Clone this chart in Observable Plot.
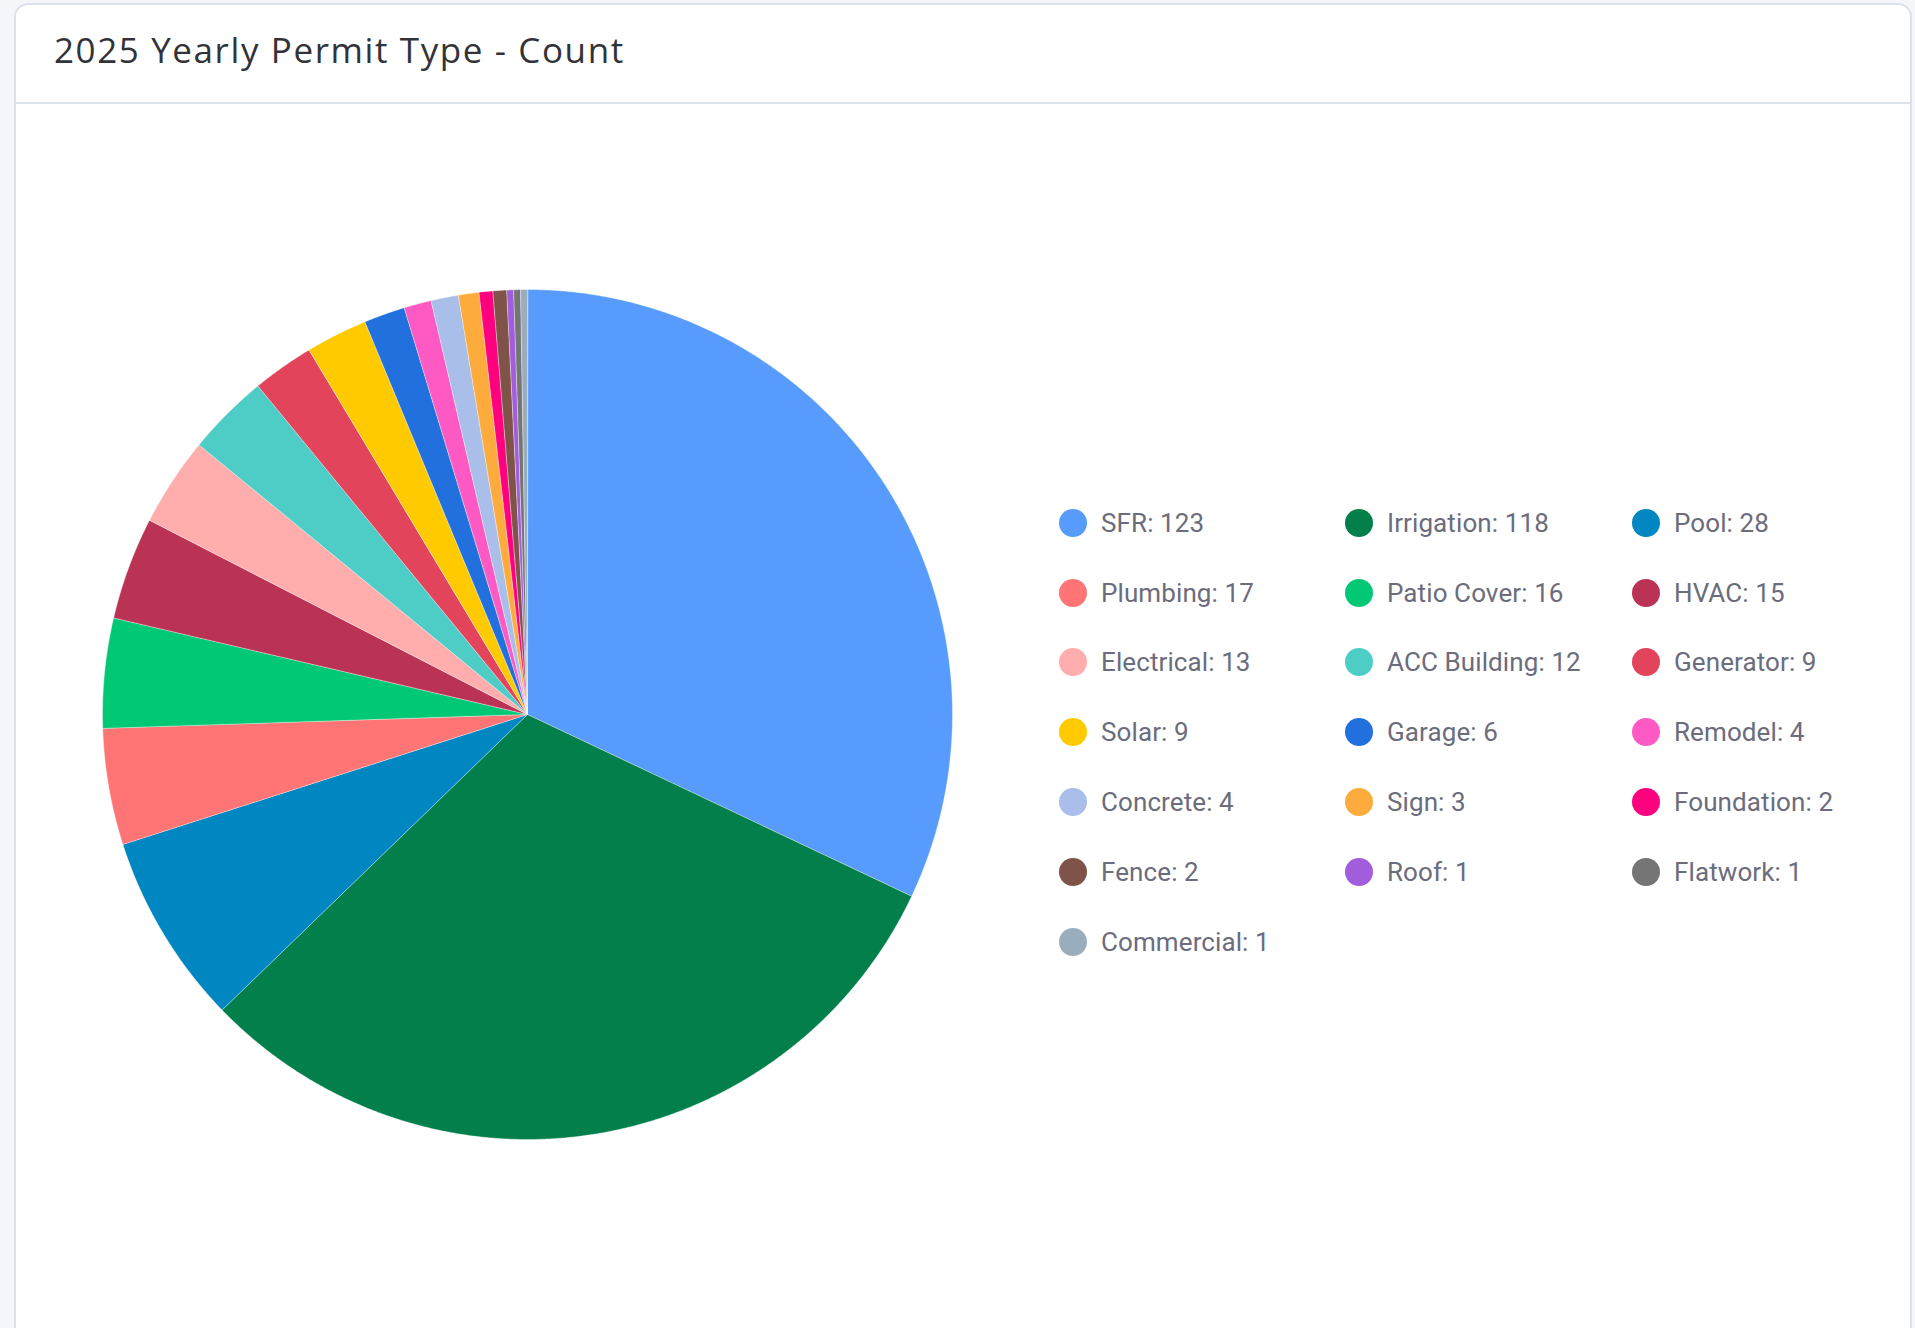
<!DOCTYPE html>
<html>
<head>
<meta charset="utf-8">
<script src="https://cdn.jsdelivr.net/npm/d3@7"></script>
<script src="https://cdn.jsdelivr.net/npm/@observablehq/plot@0.6"></script>
<style>
  html, body { margin: 0; padding: 0; background: #f5f6fa; width: 1915px; height: 1328px; overflow: hidden; }
  #card { position: absolute; left: 14px; top: 3px; width: 1898px; height: 1340px; background: #fff;
          border: 2px solid #dde1ec; border-radius: 14px; box-sizing: border-box; }
  #header { position: absolute; left: 0; top: 0; right: 0; height: 97px; border-bottom: 2px solid #dde1ec; }
  #title { position: absolute; left: 38px; top: 22px; font-family: "Open Sans", sans-serif; font-weight: 500;
           font-size: 35px; line-height: 46px; color: #323338; letter-spacing: 1.6px; white-space: nowrap; }
  #chart { position: absolute; left: 0px; top: 97px; }
  #legend { position: absolute; left: 1043px; top: 483px; display: grid;
            grid-template-columns: 286px 287px 287px; grid-auto-rows: 69.8px; }
  .item { display: flex; align-items: center; font-family: Roboto, sans-serif; font-size: 26px; color: #6b6c7c;
          font-weight: 400; white-space: nowrap; letter-spacing: 0.1px; }
  .sw { width: 28px; height: 28px; border-radius: 50%; margin-right: 14px; flex: none; }
</style>
</head>
<body>
<div id="card">
  <div id="header"><div id="title"></div></div>
  <div id="chart"></div>
  <div id="legend"></div>
</div>
<script>
const titleText = "2025 Yearly Permit Type - Count";
const categories = ["SFR", "Irrigation", "Pool", "Plumbing", "Patio Cover", "HVAC", "Electrical", "ACC Building",
  "Generator", "Solar", "Garage", "Remodel", "Concrete", "Sign", "Foundation", "Fence", "Roof", "Flatwork", "Commercial"];
const counts = [123, 118, 28, 17, 16, 15, 13, 12, 9, 9, 6, 4, 4, 3, 2, 2, 1, 1, 1];
const colors = ["#579bfc", "#037f4c", "#0086c0", "#ff7575", "#00c875", "#bb3354", "#ffadad", "#4eccc6",
  "#e2445c", "#ffcb00", "#2170de", "#ff5ac4", "#a9bee8", "#fdab3d", "#ff007f", "#7f5347", "#a25ddc", "#757575", "#9aadbd"];

document.getElementById("title").textContent = titleText;

const data = categories.map((c, i) => ({category: c, count: counts[i]}));
const arcs = d3.pie().sort(null).value(d => d.count)(data);

// Each slice as a planar polygon in unit coordinates (screen y down), clockwise from 12 o'clock
const features = arcs.map(a => {
  const ring = [[0, 0]];
  const steps = Math.max(2, Math.ceil((a.endAngle - a.startAngle) / (Math.PI / 720)));
  for (let k = 0; k <= steps; ++k) {
    const t = a.startAngle + (a.endAngle - a.startAngle) * k / steps;
    ring.push([Math.sin(t), -Math.cos(t)]);
  }
  ring.push([0, 0]);
  return {type: "Feature", properties: a.data, geometry: {type: "Polygon", coordinates: [ring]}};
});

const R = 425;
const W = 1022, H = 1224;
const chart = Plot.plot({
  width: W,
  height: H,
  marginLeft: 86, marginRight: W - 86 - 2 * R,
  marginTop: 187, marginBottom: H - 187 - 2 * R,
  projection: {type: "identity", domain: {type: "MultiPoint", coordinates: [[-1, -1], [1, 1]]}},
  color: {domain: categories, range: colors},
  marks: [
    Plot.geo(features, {fill: d => d.properties.category, stroke: "#fff", strokeWidth: 0.4})
  ]
});
document.getElementById("chart").appendChild(chart);

const legend = document.getElementById("legend");
categories.forEach((c, i) => {
  const it = document.createElement("div");
  it.className = "item";
  const sw = document.createElement("span");
  sw.className = "sw";
  sw.style.background = colors[i];
  it.appendChild(sw);
  const tx = document.createElement("span");
  tx.textContent = `${c}: ${counts[i]}`;
  it.appendChild(tx);
  legend.appendChild(it);
});
</script>
</body>
</html>
